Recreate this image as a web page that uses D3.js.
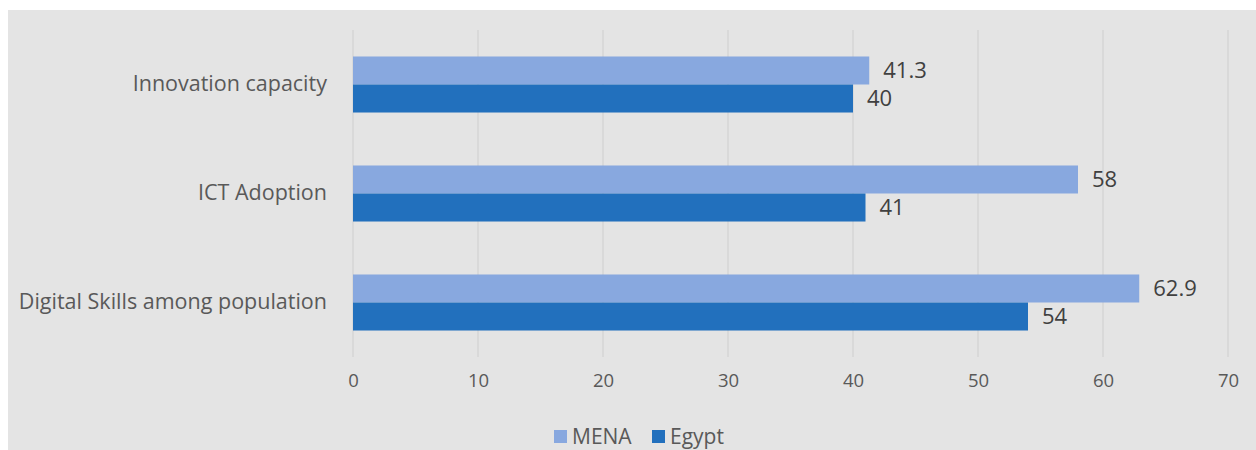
<!DOCTYPE html>
<html>
  <head>
    <script src="https://d3js.org/d3.v7.min.js"></script>
    <style>
      body { margin: 0; background: #fff; }
    </style>
  </head>
  <body>
    <div id="chart"></div>
    <script>
      // chart data
      const categories = ['Innovation capacity', 'ICT Adoption', 'Digital Skills among population'];
      const seriesNames = ['MENA', 'Egypt'];
      const menaValues = [41.3, 58, 62.9];
      const egyptValues = [40, 41, 54];
      const xTicks = [0, 10, 20, 30, 40, 50, 60, 70];

      const colors = { MENA: '#88a8df', Egypt: '#2270bd' };
      const font = '"Open Sans", sans-serif';

      const W = 1256, H = 450;
      const svg = d3.select('#chart')
        .append('svg')
        .attr('width', W)
        .attr('height', H);

      // gray panel
      svg.append('rect')
        .attr('x', 8).attr('y', 10)
        .attr('width', W - 8).attr('height', H - 10)
        .attr('fill', '#e4e4e4');

      const plotLeft = 353, plotRight = 1228, plotTop = 30, plotBottom = 357;

      const x = d3.scaleLinear().domain([0, 70]).range([plotLeft, plotRight]);
      const y = d3.scaleBand()
        .domain(categories)
        .range([plotTop, plotBottom])
        .paddingInner(0.486)
        .paddingOuter(0.243);
      const ySub = d3.scaleBand()
        .domain(seriesNames)
        .range([0, y.bandwidth()]);

      // gridlines
      svg.append('g')
        .selectAll('line')
        .data(xTicks)
        .enter()
        .append('line')
        .attr('x1', d => x(d)).attr('x2', d => x(d))
        .attr('y1', plotTop).attr('y2', plotBottom)
        .attr('stroke', '#d6d6d6')
        .attr('stroke-width', 1.5);

      // x axis labels
      const xAxis = svg.append('g')
        .attr('transform', 'translate(0,' + (plotBottom + 17) + ')')
        .call(d3.axisBottom(x).tickValues(xTicks).tickSize(0).tickPadding(0));
      xAxis.select('.domain').remove();
      xAxis.selectAll('text')
        .attr('fill', '#595959')
        .style('font-family', font)
        .style('font-size', '18.5px');

      // category labels
      const yAxis = svg.append('g')
        .attr('transform', 'translate(' + (plotLeft - 26) + ',0)')
        .call(d3.axisLeft(y).tickSize(0).tickPadding(0));
      yAxis.select('.domain').remove();
      yAxis.selectAll('text')
        .attr('fill', '#595959')
        .style('font-family', font)
        .style('font-size', '21.5px');

      const rows = categories.map((c, i) => ({
        cat: c,
        vals: [{ s: 'MENA', v: menaValues[i] }, { s: 'Egypt', v: egyptValues[i] }]
      }));

      const groups = svg.selectAll('.grp')
        .data(rows)
        .enter()
        .append('g')
        .attr('class', 'grp')
        .attr('transform', d => 'translate(0,' + y(d.cat) + ')');

      groups.selectAll('rect')
        .data(d => d.vals)
        .enter()
        .append('rect')
        .attr('x', x(0))
        .attr('y', d => ySub(d.s))
        .attr('width', d => x(d.v) - x(0))
        .attr('height', ySub.bandwidth())
        .attr('fill', d => colors[d.s]);

      groups.selectAll('text')
        .data(d => d.vals)
        .enter()
        .append('text')
        .attr('x', d => x(d.v) + 14)
        .attr('y', d => ySub(d.s) + ySub.bandwidth() / 2)
        .attr('dy', '0.35em')
        .attr('fill', '#404040')
        .style('font-family', font)
        .style('font-size', '22px')
        .text(d => d.v);

      // legend
      const legend = svg.append('g').attr('transform', 'translate(554,430)');
      const legendX = [0, 98];
      seriesNames.forEach((s, i) => {
        legend.append('rect')
          .attr('x', legendX[i]).attr('y', 0)
          .attr('width', 13).attr('height', 13)
          .attr('fill', colors[s]);
        legend.append('text')
          .attr('x', legendX[i] + 18).attr('y', 7)
          .attr('dy', '0.35em')
          .attr('fill', '#595959')
          .style('font-family', font)
          .style('font-size', '21px')
          .text(s);
      });
    </script>
  </body>
</html>
